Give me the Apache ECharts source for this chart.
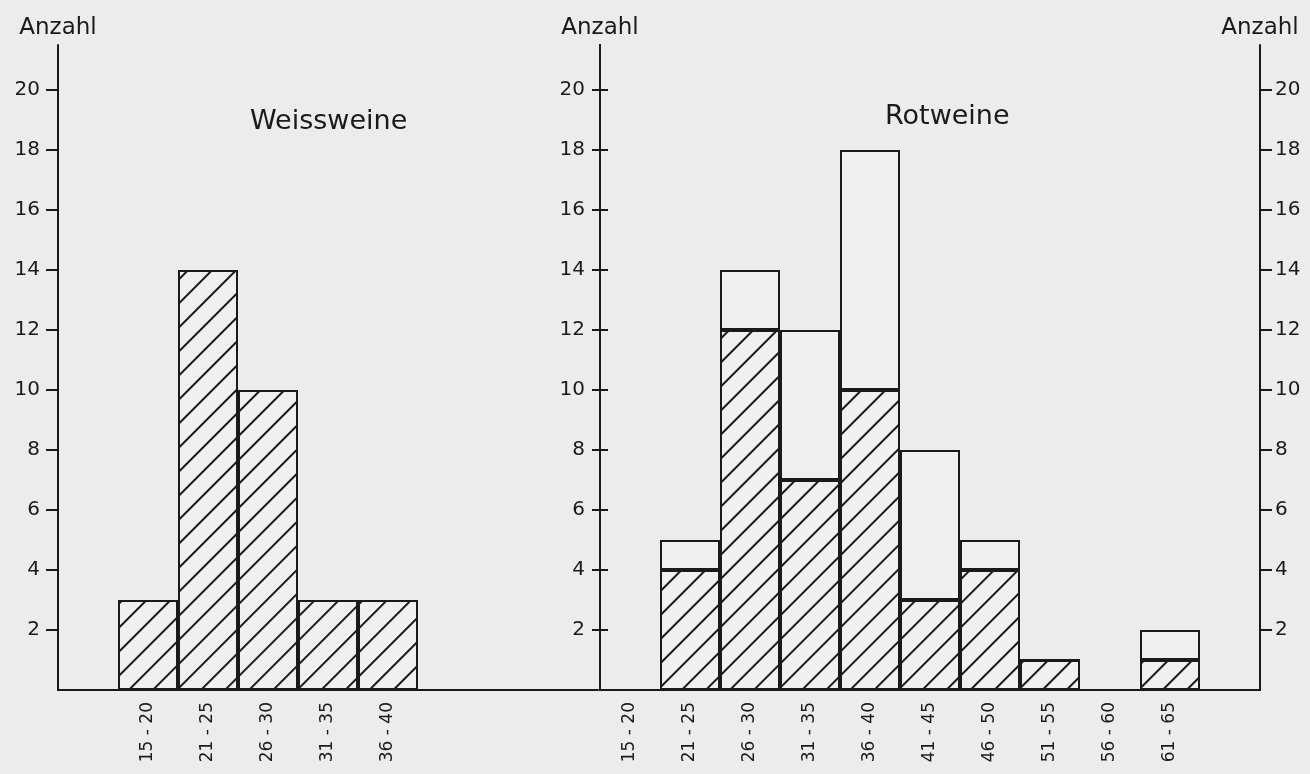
<!DOCTYPE html>
<html>
<head>
<meta charset="utf-8">
<title>Weissweine / Rotweine</title>
<script src="https://cdn.jsdelivr.net/npm/echarts@6/dist/echarts.min.js"></script>
<style>
  html, body { margin: 0; padding: 0; background: #ececec; }
  #chart { width: 1310px; height: 774px; }
</style>
</head>
<body>
<div id="chart"></div>
<script>
// Weissweine
const weissKlassen = ['15 - 20', '21 - 25', '26 - 30', '31 - 35', '36 - 40'];
const weissAnzahl = [3, 14, 10, 3, 3];

// Rotweine: schraffierter Teil unten, offener Teil oben
const rotKlassen = ['15 - 20', '21 - 25', '26 - 30', '31 - 35', '36 - 40',
  '41 - 45', '46 - 50', '51 - 55', '56 - 60', '61 - 65'];
const rotSchraffiert = [0, 4, 12, 7, 10, 3, 4, 1, 0, 1];
const rotOffen = [0, 1, 2, 5, 8, 5, 1, 0, 0, 1];

// y-Achse
const yTicks = [2, 4, 6, 8, 10, 12, 14, 16, 18, 20];
const yMax = 21.5;

const ink = '#1a1a1a';
const font = 'DejaVu Sans';

// leere Felder links/rechts auf der Kategorie-Achse
const weissAchse = [''].concat(weissKlassen, [' ', '  ', '   ']);
const weissDaten = [null].concat(weissAnzahl, [null, null, null]);
const rotAchse = rotKlassen.concat(['']);

const hatch = {
  symbol: 'rect',
  symbolSize: 1,
  dashArrayX: [1, 0],
  dashArrayY: [1.2, 14.5],
  rotation: -Math.PI / 4,
  color: ink
};

function yAchse(grid, pos, opts) {
  return Object.assign({
    type: 'value',
    gridIndex: grid,
    position: pos,
    min: 0,
    max: yMax,
    splitLine: { show: false },
    axisLine: { show: true, lineStyle: { color: ink, width: 2 } },
    axisTick: { show: true, customValues: yTicks, length: 12, lineStyle: { color: ink, width: 2 } },
    axisLabel: { customValues: yTicks, color: ink, fontSize: 20, fontFamily: font, margin: 18 },
    nameLocation: 'end',
    nameGap: 5,
    nameTextStyle: { color: ink, fontSize: 23, fontFamily: font }
  }, opts);
}

function xAchse(grid, data) {
  return {
    type: 'category',
    gridIndex: grid,
    data: data,
    axisLine: { lineStyle: { color: ink, width: 2 } },
    axisTick: { show: false },
    axisLabel: { rotate: 90, interval: 0, margin: 12, color: ink, fontSize: 17, fontFamily: font }
  };
}

const chart = echarts.init(document.getElementById('chart'));
chart.setOption({
  backgroundColor: '#ececec',
  animation: false,
  title: [
    { text: 'Weissweine', left: 245, top: 103, textStyle: { color: ink, fontSize: 27, fontWeight: 'normal', fontFamily: font } },
    { text: 'Rotweine', left: 880, top: 98, textStyle: { color: ink, fontSize: 27, fontWeight: 'normal', fontFamily: font } }
  ],
  grid: [
    { left: 58, width: 540, top: 45, bottom: 84, outerBoundsMode: 'none' },
    { left: 600, width: 660, top: 45, bottom: 84, outerBoundsMode: 'none' }
  ],
  xAxis: [xAchse(0, weissAchse), xAchse(1, rotAchse)],
  yAxis: [
    yAchse(0, 'left', { name: 'Anzahl' }),
    yAchse(1, 'left', {
      name: 'Anzahl',
      axisTick: { show: true, customValues: yTicks, length: 8, lineStyle: { color: ink, width: 2 } },
      axisLabel: { customValues: yTicks, color: ink, fontSize: 20, fontFamily: font, margin: 15 }
    }),
    yAchse(1, 'left', {
      axisTick: { show: true, inside: true, customValues: yTicks, length: 8, lineStyle: { color: ink, width: 2 } },
      axisLabel: { show: false }
    }),
    yAchse(1, 'right', { name: 'Anzahl', axisLabel: { customValues: yTicks, color: ink, fontSize: 20, fontFamily: font, margin: 15 } })
  ],
  series: [
    {
      name: 'Weissweine',
      type: 'bar',
      xAxisIndex: 0,
      yAxisIndex: 0,
      barWidth: '100%',
      data: weissDaten,
      itemStyle: { color: '#f0f0f0', borderColor: ink, borderWidth: 2, decal: hatch }
    },
    {
      name: 'Rotweine schraffiert',
      type: 'bar',
      stack: 'rot',
      xAxisIndex: 1,
      yAxisIndex: 1,
      barWidth: '100%',
      data: rotSchraffiert.concat([null]),
      itemStyle: { color: '#f0f0f0', borderColor: ink, borderWidth: 2, decal: hatch }
    },
    {
      name: 'Rotweine offen',
      type: 'bar',
      stack: 'rot',
      xAxisIndex: 1,
      yAxisIndex: 1,
      barWidth: '100%',
      data: rotOffen.concat([null]),
      itemStyle: { color: '#f0f0f0', borderColor: ink, borderWidth: 2 }
    }
  ]
});
</script>
</body>
</html>
